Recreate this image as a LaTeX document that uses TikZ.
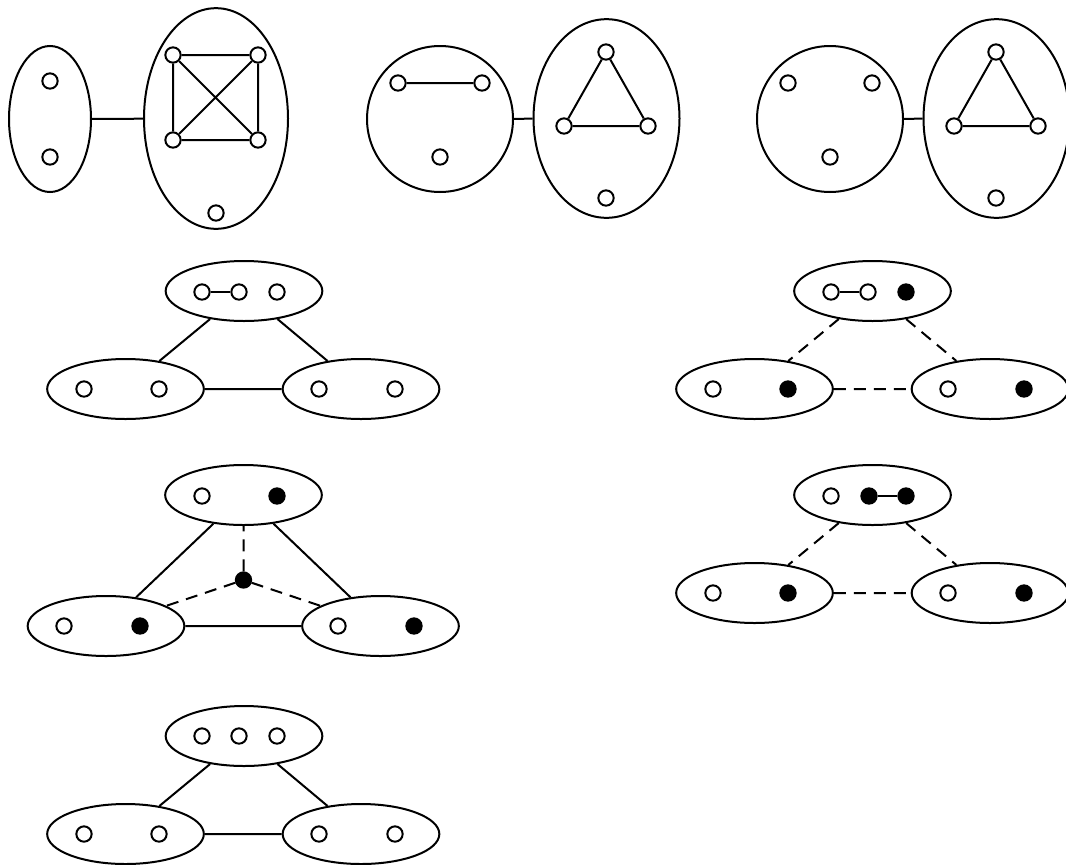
\documentclass[tikz,border=0pt]{standalone}
\usetikzlibrary{shapes.geometric}
\begin{document}
\begin{tikzpicture}[x=0.75pt,y=-0.75pt,line width=1.5pt,
  v/.style={circle,draw,fill=white,minimum size=11.5pt,inner sep=0pt},
  b/.style={circle,draw,fill=black,minimum size=11.5pt,inner sep=0pt},
  grp/.style={ellipse,draw,inner sep=0pt,minimum width=117.5pt,minimum height=45pt},
  dsh/.style={dash pattern=on 9pt off 6pt}]
\useasboundingbox (0,0) rectangle (1066,864);
% ---- panel 1
\node[ellipse,draw,inner sep=0pt,minimum width=61.5pt,minimum height=109.5pt] (A1) at (50,119) {};
\node[ellipse,draw,inner sep=0pt,minimum width=108pt,minimum height=165.5pt] (A2) at (216,118.5) {};
\draw (A1) -- (A2);
\node[v] (a1) at (50,81) {};
\node[v] (a2) at (50,157) {};
\node[v] (a3) at (173,55) {};
\node[v] (a4) at (258,55) {};
\node[v] (a5) at (173,140) {};
\node[v] (a6) at (258,140) {};
\node[v] (a7) at (216,213) {};
\draw (a3)--(a4) (a4)--(a6) (a6)--(a5) (a5)--(a3) (a3)--(a6) (a4)--(a5);
% ---- panel 2
\node[circle,draw,inner sep=0pt,minimum size=109.5pt] (B1) at (440,119) {};
\node[ellipse,draw,inner sep=0pt,minimum width=109.5pt,minimum height=149pt] (B2) at (606.5,118.5) {};
\draw (B1) -- (B2);
\node[v] (b1) at (398,83) {};
\node[v] (b2) at (482,83) {};
\node[v] (b3) at (440,157) {};
\node[v] (b4) at (606,52) {};
\node[v] (b5) at (564,126) {};
\node[v] (b6) at (648,126) {};
\node[v] (b7) at (606,198) {};
\draw (b1)--(b2) (b4)--(b5) (b5)--(b6) (b6)--(b4);
% ---- panel 3
\node[circle,draw,inner sep=0pt,minimum size=109.5pt] (C1) at (830,119) {};
\node[ellipse,draw,inner sep=0pt,minimum width=109.5pt,minimum height=149pt] (C2) at (996.5,118.5) {};
\draw (C1) -- (C2);
\node[v] (c1) at (788,83) {};
\node[v] (c2) at (872,83) {};
\node[v] (c3) at (830,157) {};
\node[v] (c4) at (996,52) {};
\node[v] (c5) at (954,126) {};
\node[v] (c6) at (1038,126) {};
\node[v] (c7) at (996,198) {};
\draw (c4)--(c5) (c5)--(c6) (c6)--(c4);
% ---- row 2 left
\node[grp] (D0) at (244,291) {};
\node[grp] (D1) at (125.5,389) {};
\node[grp] (D2) at (361,389) {};
\draw (D0)--(D1) (D0)--(D2) (D1)--(D2);
\node[v] (d1) at (202,292) {};
\node[v] (d2) at (239,292) {};
\node[v] (d3) at (277,292) {};
\node[v] (d4) at (84,389) {};
\node[v] (d5) at (159,389) {};
\node[v] (d6) at (319,389) {};
\node[v] (d7) at (395,389) {};
\draw (d1)--(d2);
% ---- row 2 right
\node[grp] (E0) at (872.5,291) {};
\node[grp] (E1) at (754.5,389) {};
\node[grp] (E2) at (990,389) {};
\draw[dsh] (E0)--(E1) (E0)--(E2) (E1)--(E2);
\node[v] (e1) at (831,292) {};
\node[v] (e2) at (868,292) {};
\node[b] (e3) at (906,292) {};
\node[v] (e4) at (713,389) {};
\node[b] (e5) at (788,389) {};
\node[v] (e6) at (948,389) {};
\node[b] (e7) at (1024,389) {};
\draw (e1)--(e2);
% ---- row 3 left
\node[grp] (F0) at (243.5,495) {};
\node[grp] (F1) at (106,626) {};
\node[grp] (F2) at (380.5,626) {};
\node[b] (fc) at (243.5,580) {};
\draw (F0)--(F1) (F0)--(F2) (F1)--(F2);
\draw[dsh] (fc)--(F0) (fc)--(F1) (fc)--(F2);
\node[v] (f1) at (202,496) {};
\node[b] (f2) at (277,496) {};
\node[v] (f3) at (64,626) {};
\node[b] (f4) at (140,626) {};
\node[v] (f5) at (338,626) {};
\node[b] (f6) at (414,626) {};
% ---- row 3 right
\node[grp] (G0) at (872.5,495) {};
\node[grp] (G1) at (754.5,593) {};
\node[grp] (G2) at (990,593) {};
\draw[dsh] (G0)--(G1) (G0)--(G2) (G1)--(G2);
\node[v] (g1) at (831,496) {};
\node[b] (g2) at (869,496) {};
\node[b] (g3) at (906,496) {};
\node[v] (g4) at (713,593) {};
\node[b] (g5) at (788,593) {};
\node[v] (g6) at (948,593) {};
\node[b] (g7) at (1024,593) {};
\draw (g2)--(g3);
% ---- row 4 left
\node[grp] (H0) at (244,736) {};
\node[grp] (H1) at (125.5,834) {};
\node[grp] (H2) at (361,834) {};
\draw (H0)--(H1) (H0)--(H2) (H1)--(H2);
\node[v] (h1) at (202,736) {};
\node[v] (h2) at (239,736) {};
\node[v] (h3) at (277,736) {};
\node[v] (h4) at (84,834) {};
\node[v] (h5) at (159,834) {};
\node[v] (h6) at (319,834) {};
\node[v] (h7) at (395,834) {};
\end{tikzpicture}
\end{document}
